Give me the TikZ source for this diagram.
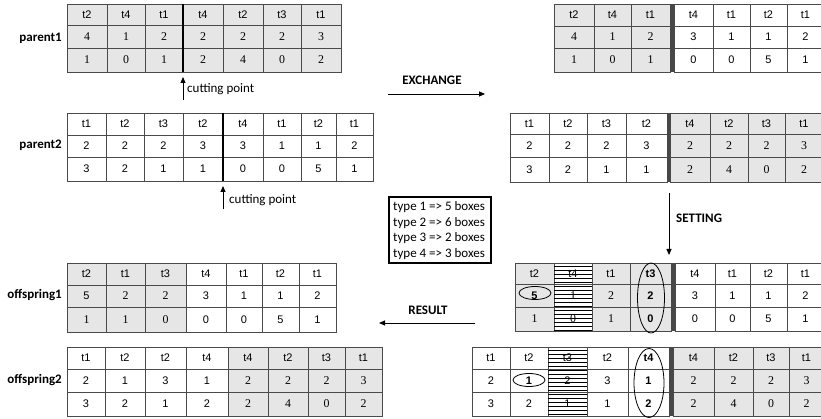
\documentclass[tikz,border=0pt]{standalone}
\usepackage{fontspec}
\setmainfont{Liberation Sans}
\newfontfamily\sr[Scale=1.08]{Liberation Serif}
\newfontfamily\calfont{Carlito}
\usetikzlibrary{shapes.geometric,arrows.meta}
\definecolor{cellgrey}{HTML}{E6E6E6}
\definecolor{gridc}{HTML}{4A4A4A}
\tikzset{
  txt/.style={inner sep=0pt, font=\fontsize{11}{13}\selectfont},
  lbl/.style={inner sep=0pt, anchor=east, font=\calfont\bfseries\fontsize{13}{15}\selectfont},
  note/.style={inner sep=0pt, font=\calfont\fontsize{13}{15}\selectfont},
  head/.style={inner sep=0pt, font=\calfont\bfseries\fontsize{13}{15}\selectfont},
  cutline/.style={line width=1.1pt, black},
  sepbar/.style={fill=black!72},
  arr/.style={line width=0.9pt, -{Triangle[length=6pt,width=5pt]}},
  ell/.style={draw, ellipse, line width=0.8pt, inner sep=0pt},
  hatch/.style={line width=0.8pt, black}
}
\newcommand\mktable[6]{%
  \foreach \xa/\xb/\f/\ra/\rb/\rc [count=\i] in {#6}{%
    \filldraw[fill=\f, draw=gridc, line width=0.7pt] (\xa,#2) rectangle (\xb,#5);
    \draw[draw=gridc, line width=0.7pt] (\xa,#3) -- (\xb,#3) (\xa,#4) -- (\xb,#4);
    \node[txt] (#1-\i-1) at ({(\xa+\xb)/2},{(#2+#3)/2}) {\ra};
    \node[txt] (#1-\i-2) at ({(\xa+\xb)/2},{(#3+#4)/2}) {\rb};
    \node[txt] (#1-\i-3) at ({(\xa+\xb)/2},{(#4+#5)/2}) {\rc};
  }}
\begin{document}
\begin{tikzpicture}[x=1pt,y=-1pt]
\useasboundingbox (0,0) rectangle (821,419);

% ---------------- parent1 (left)
\mktable{pa}{4}{25}{48}{72}{%
 67/107/cellgrey/t2/{\sr 4}/{\sr 1},
 107/145/cellgrey/t4/{\sr 1}/{\sr 0},
 145/183/cellgrey/t1/{\sr 2}/{\sr 1},
 183/223/cellgrey/t4/{\sr 2}/{\sr 2},
 223/263/cellgrey/t2/{\sr 2}/{\sr 4},
 263/301/cellgrey/t3/{\sr 2}/{\sr 0},
 301/341/cellgrey/t1/{\sr 3}/{\sr 2}}
\draw[cutline] (183,4) -- (183,72);
\node[lbl] (lp1) at (62,38) {parent1};
\coordinate (c1a) at (183,100);
\coordinate (c1b) at (183,77);
\draw[arr] (c1a) -- (c1b);
\node[note, anchor=west] (cp1) at (187,89) {cutting point};

% ---------------- parent2 (left)
\mktable{pb}{113}{135}{157}{181}{%
 67/106/white/t1/2/3,
 106/144/white/t2/2/2,
 144/183/white/t3/2/1,
 183/223/white/t2/3/1,
 223/263/white/t4/3/0,
 263/301/white/t1/1/0,
 301/336/white/t2/1/5,
 336/373/white/t1/2/1}
\draw[cutline] (223,113) -- (223,181);
\node[lbl] (lp2) at (62,145) {parent2};
\coordinate (c2a) at (223,209);
\coordinate (c2b) at (223,186);
\draw[arr] (c2a) -- (c2b);
\node[note, anchor=west] (cp2) at (229,200) {cutting point};

% ---------------- parent1 after exchange (right)
\mktable{pc}{4}{26}{48}{72}{%
 554/594/cellgrey/t2/{\sr 4}/{\sr 1},
 594/631/cellgrey/t4/{\sr 1}/{\sr 0},
 631/670/cellgrey/t1/{\sr 2}/{\sr 1},
 674/713/white/t4/3/0,
 713/750/white/t1/1/0,
 750/787/white/t2/1/5,
 787/824/white/t1/2/1}
\fill[sepbar] (670,4) rectangle (674,72);

% ---------------- parent2 after exchange (right)
\mktable{pd}{113}{134}{157}{182}{%
 510/549/white/t1/2/3,
 549/587/white/t2/2/2,
 587/626/white/t3/2/1,
 626/667/white/t2/3/1,
 670/710/cellgrey/t4/{\sr 2}/{\sr 2},
 710/748/cellgrey/t2/{\sr 2}/{\sr 4},
 748/785/cellgrey/t3/{\sr 2}/{\sr 0},
 785/823/cellgrey/t1/{\sr 3}/{\sr 2}}
\fill[sepbar] (667,113) rectangle (670,182);

% ---------------- EXCHANGE arrow
\coordinate (exa) at (388,94);
\coordinate (exb) at (485,94);
\draw[arr] (exa) -- (exb);
\node[head] (exl) at (432,80) {EXCHANGE};

% ---------------- SETTING arrow
\coordinate (sta) at (669,193);
\coordinate (stb) at (669,255);
\draw[arr] (sta) -- (stb);
\node[head, anchor=west] (stl) at (676,218) {SETTING};

% ---------------- legend box
\draw[line width=1.6pt] (389,197) rectangle (491,263);
\node[note, anchor=west] (ty1) at (393,207) {type 1 => 5 boxes};
\node[note, anchor=west] (ty2) at (393,223) {type 2 => 6 boxes};
\node[note, anchor=west] (ty3) at (393,238) {type 3 => 2 boxes};
\node[note, anchor=west] (ty4) at (393,254) {type 4 => 3 boxes};

% ---------------- setting table 1 (right)
\mktable{pe}{263}{284}{307}{331}{%
 515/554/cellgrey/t2/\textbf{5}/{\sr 1},
 554/592/white/t4/{\sr 1}/{\sr 0},
 592/630/cellgrey/t1/{\sr 2}/{\sr 1},
 630/671/cellgrey/\textbf{t3}/\textbf{2}/\textbf{0},
 675/715/white/t4/3/0,
 715/750/white/t1/1/0,
 750/787/white/t2/1/5,
 787/824/white/t1/2/1}
\fill[sepbar] (671,263) rectangle (675,331);
\foreach \yy in {266,270,...,330} \draw[hatch] (554,\yy) -- (592,\yy);
\node[ell, minimum width=32pt, minimum height=13pt] (e1) at (535,293) {};
\node[ell, minimum width=27pt, minimum height=70pt] (e2) at (651,298) {};

% ---------------- RESULT arrow
\coordinate (rsa) at (475,323);
\coordinate (rsb) at (379,323);
\draw[arr] (rsa) -- (rsb);
\node[head] (rsl) at (428,310) {RESULT};

% ---------------- offspring1 (left)
\mktable{pf}{263}{285}{307}{332}{%
 67/106/cellgrey/t2/5/{\sr 1},
 106/145/cellgrey/t1/{\sr 2}/{\sr 1},
 145/186/cellgrey/t3/{\sr 2}/{\sr 0},
 186/226/white/t4/3/0,
 226/262/white/t1/1/0,
 262/299/white/t2/1/5,
 299/336/white/t1/2/1}
\node[lbl] (lo1) at (62,295) {offspring1};

% ---------------- setting table 2 (right)
\mktable{pg}{347}{369}{392}{416}{%
 472/510/white/t1/2/3,
 510/548/white/t2/\textbf{1}/2,
 548/587/white/t3/2/1,
 587/628/white/t2/3/1,
 628/669/white/\textbf{t4}/\textbf{1}/\textbf{2},
 673/714/cellgrey/t4/{\sr 2}/{\sr 2},
 714/753/cellgrey/t2/{\sr 2}/{\sr 4},
 753/789/cellgrey/t3/{\sr 2}/{\sr 0},
 789/824/cellgrey/t1/{\sr 3}/{\sr 2}}
\fill[sepbar] (669,347) rectangle (673,416);
\foreach \yy in {350,354,...,414} \draw[hatch] (548,\yy) -- (587,\yy);
\node[ell, minimum width=32pt, minimum height=13pt] (e3) at (529,380) {};
\node[ell, minimum width=30pt, minimum height=69pt] (e4) at (649,383) {};

% ---------------- offspring2 (left)
\mktable{ph}{347}{369}{392}{416}{%
 67/105/white/t1/2/3,
 105/145/white/t2/1/2,
 145/186/white/t2/3/1,
 186/228/white/t4/1/2,
 228/268/cellgrey/t4/{\sr 2}/{\sr 2},
 268/308/cellgrey/t2/{\sr 2}/{\sr 4},
 308/345/cellgrey/t3/{\sr 2}/{\sr 0},
 345/382/cellgrey/t1/{\sr 3}/{\sr 2}}
\node[lbl] (lo2) at (62,380) {offspring2};
\end{tikzpicture}
\end{document}
